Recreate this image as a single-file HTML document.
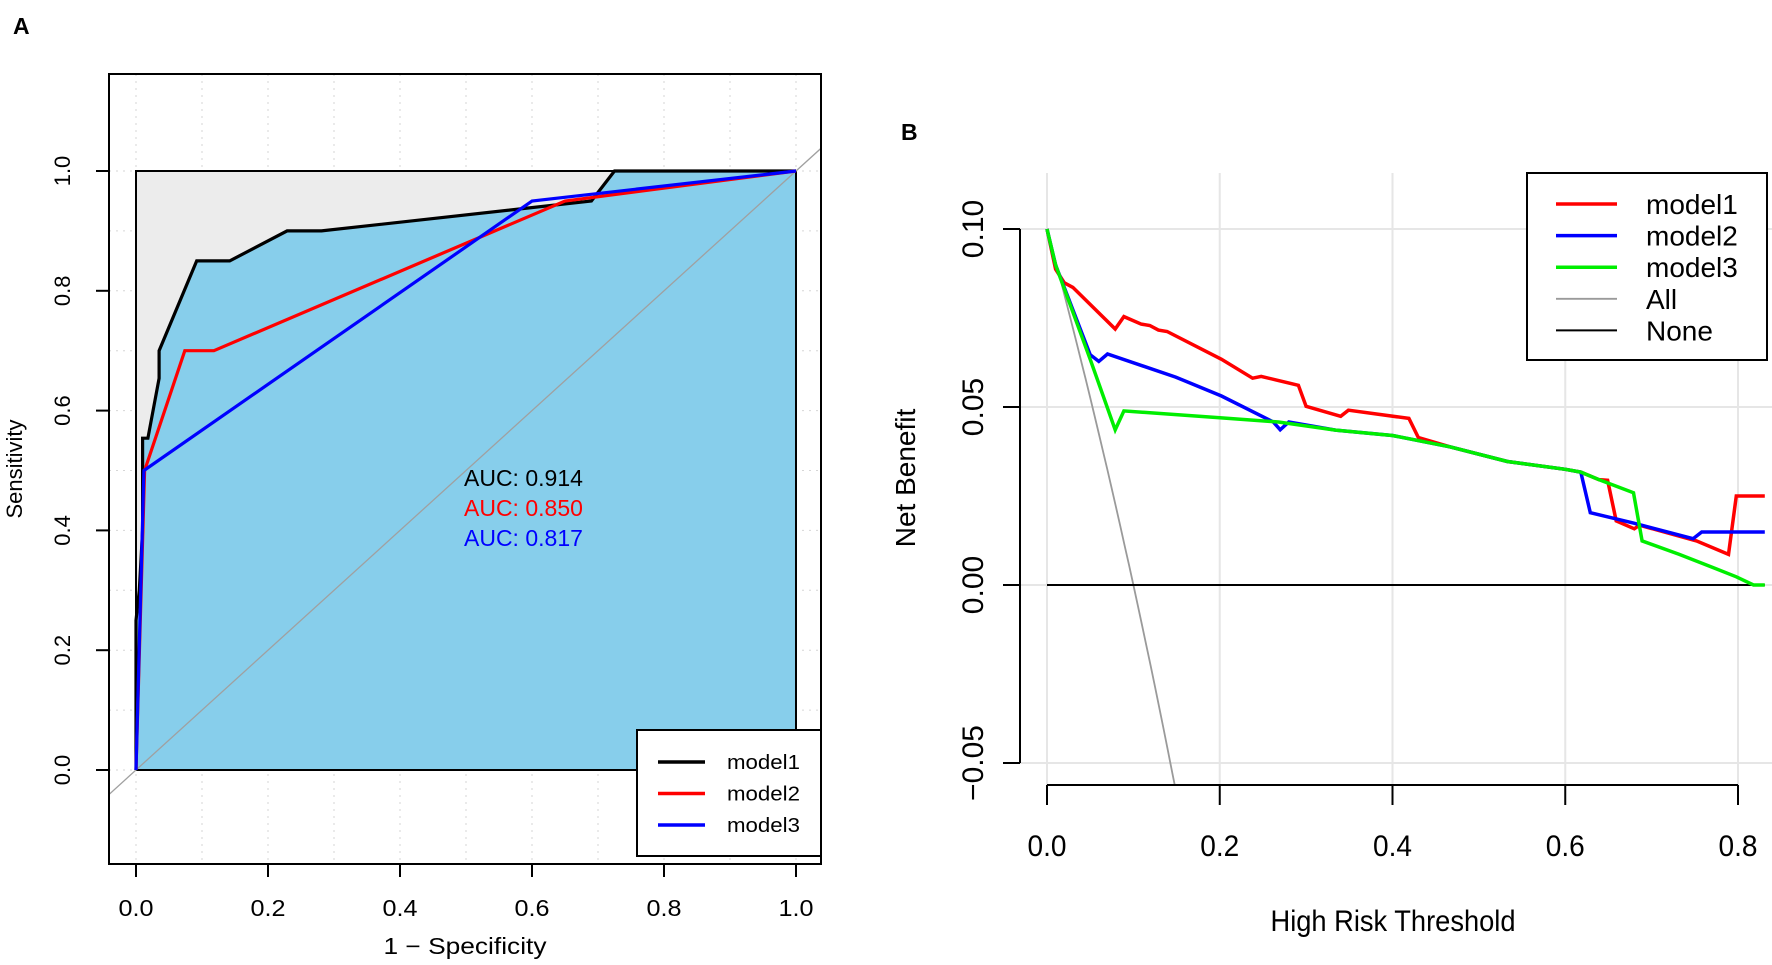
<!DOCTYPE html>
<html><head><meta charset="utf-8"><style>
html,body{margin:0;padding:0;background:#fff;overflow:hidden;width:1772px;height:965px;}
svg{display:block;font-family:"Liberation Sans",Arial,sans-serif;overflow:hidden;}
</style></head><body>
<svg id="fig" width="1772" height="965" viewBox="0 0 1772 965" xmlns="http://www.w3.org/2000/svg">
<defs>
<clipPath id="clipA"><rect x="109" y="74" width="712" height="790"/></clipPath>
<clipPath id="clipB"><rect x="1020" y="173" width="752" height="612"/></clipPath>
</defs>
<g id="panelA"></g>
<g id="panelB"></g>
</svg>
<script>
// ---- ROC data (panel A) ----
const rocFpr1 = [0, 0, 0.005, 0.01, 0.01, 0.018, 0.035, 0.035, 0.092, 0.142, 0.229, 0.281, 0.69, 0.725, 1];
const rocTpr1 = [0, 0.25, 0.3, 0.4, 0.554, 0.554, 0.654, 0.70, 0.85, 0.85, 0.90, 0.90, 0.95, 1.0, 1.0];
const rocFpr2 = [0, 0.013, 0.074, 0.118, 0.65, 1];
const rocTpr2 = [0, 0.5, 0.70, 0.70, 0.95, 1.0];
const rocFpr3 = [0, 0.012, 0.6, 1];
const rocTpr3 = [0, 0.5, 0.95, 1.0];
const aucLabels = ["AUC: 0.914", "AUC: 0.850", "AUC: 0.817"];
const rocTicks = [0, 0.2, 0.4, 0.6, 0.8, 1.0];
const rocTickLabels = ["0.0", "0.2", "0.4", "0.6", "0.8", "1.0"];
const modelNames = ["model1", "model2", "model3"];

// ---- DCA data (panel B) ----
const t1 = [0,0.01,0.02,0.03,0.079,0.089,0.109,0.119,0.129,0.139,0.202,0.238,0.248,0.291,0.300,0.340,0.349,0.419,0.43,0.467,0.533,0.6,0.618,0.639,0.649,0.659,0.68,0.686,0.752,0.789,0.798,0.831];
const nb1 = [0.1,0.0887,0.0849,0.0836,0.0719,0.0754,0.0733,0.0729,0.0716,0.0712,0.0634,0.0581,0.0586,0.0561,0.0502,0.0474,0.0491,0.0468,0.0414,0.0388,0.0347,0.0325,0.0317,0.0296,0.0294,0.018,0.0158,0.0168,0.0124,0.0086,0.025,0.025];
const t2 = [0,0.01,0.05,0.06,0.07,0.149,0.202,0.262,0.27,0.28,0.334,0.4,0.467,0.533,0.6,0.618,0.629,0.679,0.748,0.758,0.831];
const nb2 = [0.1,0.0899,0.0647,0.0628,0.0649,0.0584,0.0531,0.0458,0.0436,0.0458,0.0435,0.042,0.0388,0.0347,0.0325,0.0317,0.0203,0.0174,0.013,0.0149,0.0149];
const t3 = [0,0.01,0.05,0.079,0.089,0.2,0.268,0.334,0.4,0.467,0.533,0.6,0.618,0.639,0.679,0.689,0.732,0.772,0.798,0.818,0.831];
const nb3 = [0.1,0.0899,0.0634,0.0436,0.0489,0.047,0.0458,0.0435,0.042,0.0388,0.0347,0.0325,0.0317,0.0296,0.0259,0.0124,0.0086,0.0048,0.0023,0,0];
const prevalence = [0.1];
const dcaXTicks = [0, 0.2, 0.4, 0.6, 0.8];
const dcaXLabels = ["0.0", "0.2", "0.4", "0.6", "0.8"];
const dcaYTicks = [0.10, 0.05, 0.00, -0.05];
const dcaYLabels = ["0.10", "0.05", "0.00", "\u22120.05"];
const dcaLegend = ["model1", "model2", "model3", "All", "None"];

const NS = "http://www.w3.org/2000/svg";
function mk(parent, tag, attrs, text){
  const e = document.createElementNS(NS, tag);
  for (const k in attrs) e.setAttribute(k, attrs[k]);
  if (text !== undefined) e.textContent = text;
  parent.appendChild(e);
  return e;
}
function pts(xs, ys, fx, fy){ return xs.map((v,i)=>fx(v).toFixed(1)+","+fy(ys[i]).toFixed(1)).join(" "); }

// ===== Panel A =====
const A = document.getElementById("panelA");
const ax = v => 136 + v*660;
const ay = v => 770 - v*599;
let e;
e = mk(A,"text",{x:13,y:34,"font-size":23,"font-weight":"bold"},"A");
 
for (let i=0;i<=10;i++){
  const v=i/10;
  e = mk(A,"line",{x1:ax(v),x2:ax(v),y1:74,y2:864,stroke:"#d6d6d6","stroke-width":1,"stroke-dasharray":"2,5"});
   
  e = mk(A,"line",{x1:109,x2:821,y1:ay(v),y2:ay(v),stroke:"#d6d6d6","stroke-width":1,"stroke-dasharray":"2,5"});
   
}
e = mk(A,"rect",{x:ax(0),y:ay(1),width:ax(1)-ax(0),height:ay(0)-ay(1),fill:"#ececec"});
 
e = mk(A,"polygon",{points:pts(rocFpr1,rocTpr1,ax,ay)+" "+ax(1)+","+ay(0),fill:"#87ceeb"});
 
e = mk(A,"rect",{x:ax(0),y:ay(1),width:ax(1)-ax(0),height:ay(0)-ay(1),fill:"none",stroke:"#000","stroke-width":2});
 
e = mk(A,"line",{x1:ax(-0.1),y1:ay(-0.1),x2:ax(1.2),y2:ay(1.2),stroke:"#a0a0a0","stroke-width":1.3,"clip-path":"url(#clipA)"});
 
e = mk(A,"polyline",{points:pts(rocFpr1,rocTpr1,ax,ay),fill:"none",stroke:"#000","stroke-width":3.2,"stroke-linejoin":"miter"});
 
e = mk(A,"polyline",{points:pts(rocFpr2,rocTpr2,ax,ay),fill:"none",stroke:"#ff0000","stroke-width":3.2});
 
e = mk(A,"polyline",{points:pts(rocFpr3,rocTpr3,ax,ay),fill:"none",stroke:"#0000ff","stroke-width":3.2});
 
const aucCols=["#000","#ff0000","#0000ff"];
aucLabels.forEach((s,i)=>{
  e = mk(A,"text",{x:464,y:486+i*30,"font-size":23,fill:aucCols[i]},s);
   
});
e = mk(A,"rect",{x:109,y:74,width:712,height:790,fill:"none",stroke:"#000","stroke-width":2});
 
rocTicks.forEach((v,i)=>{
  e = mk(A,"line",{x1:ax(v),x2:ax(v),y1:864,y2:877,stroke:"#000","stroke-width":2});
   
  e = mk(A,"text",{x:ax(v),y:916,"font-size":23,"text-anchor":"middle",textLength:35,lengthAdjust:"spacingAndGlyphs"},rocTickLabels[i]);
   
  e = mk(A,"line",{x1:96,x2:109,y1:ay(v),y2:ay(v),stroke:"#000","stroke-width":2});
   
  e = mk(A,"text",{x:0,y:0,"font-size":22,"text-anchor":"middle",transform:`translate(70,${ay(v)}) rotate(-90)`},rocTickLabels[i]);
   
});
e = mk(A,"text",{x:465,y:954,"font-size":23,"text-anchor":"middle",textLength:163,lengthAdjust:"spacingAndGlyphs"},"1 \u2212 Specificity");
 
e = mk(A,"text",{x:0,y:0,"font-size":22,"text-anchor":"middle",transform:"translate(22,469) rotate(-90)"},"Sensitivity");
 
e = mk(A,"rect",{x:637,y:730,width:184,height:126,fill:"#fff",stroke:"#000","stroke-width":2});
 
modelNames.forEach((n,i)=>{
  const y=762+i*31.5;
  e = mk(A,"line",{x1:658,x2:705,y1:y,y2:y,stroke:aucCols[i],"stroke-width":3.5});
   
  e = mk(A,"text",{x:727,y:y+7,"font-size":20,textLength:73,lengthAdjust:"spacingAndGlyphs"},n);
   
});

// ===== Panel B =====
const B = document.getElementById("panelB");
const bx = v => 1047 + v*863.75;
const by = v => 585 - v*3560;
e = mk(B,"text",{x:901,y:140,"font-size":23,"font-weight":"bold"},"B");
 
dcaXTicks.forEach(v=>{
  e = mk(B,"line",{x1:bx(v),x2:bx(v),y1:173,y2:785,stroke:"#e6e6e6","stroke-width":2});
   
});
dcaYTicks.forEach(v=>{
  e = mk(B,"line",{x1:1020,x2:1772,y1:by(v),y2:by(v),stroke:"#e6e6e6","stroke-width":2});
   
});
const p = prevalence[0];
const allT=[], allNb=[];
for (let t=0;t<=0.5;t+=0.005){ allT.push(t); allNb.push(p-(1-p)*t/(1-t)); }
e = mk(B,"polyline",{points:pts(allT,allNb,bx,by),fill:"none",stroke:"#9a9a9a","stroke-width":1.8,"clip-path":"url(#clipB)"});
 
e = mk(B,"line",{x1:bx(0),x2:bx(0.831),y1:by(0),y2:by(0),stroke:"#000","stroke-width":2});
 
e = mk(B,"polyline",{points:pts(t1,nb1,bx,by),fill:"none",stroke:"#ff0000","stroke-width":3.5});
 
e = mk(B,"polyline",{points:pts(t2,nb2,bx,by),fill:"none",stroke:"#0000ff","stroke-width":3.5});
 
e = mk(B,"polyline",{points:pts(t3,nb3,bx,by),fill:"none",stroke:"#00ee00","stroke-width":3.5});
 
e = mk(B,"line",{x1:1020,x2:1020,y1:by(0.10),y2:by(-0.05),stroke:"#000","stroke-width":2});
 
e = mk(B,"line",{x1:bx(0),x2:bx(0.8),y1:785,y2:785,stroke:"#000","stroke-width":2});
 
dcaXTicks.forEach((v,i)=>{
  e = mk(B,"line",{x1:bx(v),x2:bx(v),y1:785,y2:805,stroke:"#000","stroke-width":2});
   
  e = mk(B,"text",{x:bx(v),y:856,"font-size":30,"text-anchor":"middle",textLength:39,lengthAdjust:"spacingAndGlyphs"},dcaXLabels[i]);
   
});
dcaYTicks.forEach((v,i)=>{
  e = mk(B,"line",{x1:1003,x2:1020,y1:by(v),y2:by(v),stroke:"#000","stroke-width":2});
   
  e = mk(B,"text",{x:0,y:0,"font-size":30,"text-anchor":"middle",transform:`translate(983,${by(v)}) rotate(-90)`},dcaYLabels[i]);
   
});
e = mk(B,"text",{x:1393,y:931,"font-size":30,"text-anchor":"middle",textLength:245,lengthAdjust:"spacingAndGlyphs"},"High Risk Threshold");
 
e = mk(B,"text",{x:0,y:0,"font-size":28,"text-anchor":"middle",transform:"translate(915,478) rotate(-90)"},"Net Benefit");
 
e = mk(B,"rect",{x:1527,y:173,width:240,height:187,fill:"#fff",stroke:"#000","stroke-width":2});
 
const legCols=["#ff0000","#0000ff","#00ee00","#9a9a9a","#000"];
const legW=[3.5,3.5,3.5,1.8,2];
dcaLegend.forEach((n,i)=>{
  const y=204+i*31.6;
  e = mk(B,"line",{x1:1556,x2:1617,y1:y,y2:y,stroke:legCols[i],"stroke-width":legW[i]});
   
  e = mk(B,"text",{x:1646,y:y+10,"font-size":28},n);
   
});
</script>
</body></html>
